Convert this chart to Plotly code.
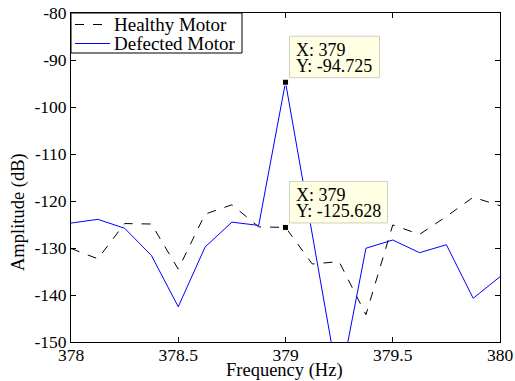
import plotly.graph_objects as go

freq = [378.0, 378.125, 378.25, 378.375, 378.5, 378.625, 378.75, 378.875, 379.0,
        379.125, 379.25, 379.375, 379.5, 379.625, 379.75, 379.875, 380.0]
healthy = [-130.1, -132.3, -124.8, -124.9, -134.5, -122.8, -120.8, -125.5, -125.628,
           -133.4, -132.9, -144.2, -125.1, -127.1, -123.3, -119.2, -121.0]
defected = [-124.7, -123.9, -125.8, -131.6, -142.5, -129.8, -124.5, -125.2, -94.725,
            -127.2, -159.6, -130.05, -128.3, -131.0, -129.3, -140.7, -136.1]

x_ticks = [378, 378.5, 379, 379.5, 380]
x_ticktext = ["378", "378.5", "379", "379.5", "380"]
y_ticks = [-150, -140, -130, -120, -110, -100, -90, -80]
y_ticktext = ["-150", "-140", "-130", "-120", "-110", "-100", "-90", "-80"]

series_names = ["Healthy Motor", "Defected Motor"]

tip_x = [379.0, 379.0]
tip_y = [-94.725, -125.628]
tip_box_w = [90, 98]

FONT = "Liberation Serif"
TIP_BG = "#ffffe3"
TIP_EDGE = "#cfcfc4"

fig = go.Figure()
fig.add_trace(go.Scatter(x=freq, y=healthy, mode="lines", name=series_names[0], showlegend=False,
                         line=dict(color="black", width=1, dash="dash")))
fig.add_trace(go.Scatter(x=freq, y=defected, mode="lines", name=series_names[1], showlegend=False,
                         line=dict(color="#0000ff", width=1)))

# data tip boxes
for xv, yv, bw in zip(tip_x, tip_y, tip_box_w):
    fig.add_shape(type="rect", xref="x", yref="y", xsizemode="pixel", ysizemode="pixel",
                  xanchor=xv, yanchor=yv, x0=4, x1=4 + bw, y0=4.5, y1=46,
                  fillcolor=TIP_BG, line=dict(color=TIP_EDGE, width=1), layer="above")
    fig.add_annotation(x=xv, y=yv, xref="x", yref="y", xanchor="left", yanchor="middle",
                       xshift=8.5, yshift=32, showarrow=False, text=f"X: {xv:g}",
                       font=dict(family=FONT, size=18, color="black"))
    fig.add_annotation(x=xv, y=yv, xref="x", yref="y", xanchor="left", yanchor="middle",
                       xshift=8.5, yshift=16.5, showarrow=False, text=f"Y: {yv:g}",
                       font=dict(family=FONT, size=18, color="black"))

fig.add_trace(go.Scatter(x=tip_x, y=tip_y, mode="markers", showlegend=False,
                         marker=dict(symbol="square", size=6, color="black",
                                     line=dict(color=TIP_BG, width=1)),
                         cliponaxis=False))

# legend box (drawn manually, MATLAB style)
fig.add_shape(type="rect", xref="paper", yref="paper", x0=0, x1=171 / 429, y0=1 - 40 / 329, y1=1,
              fillcolor="white", line=dict(color="black", width=1), layer="above")
fig.add_shape(type="line", xref="paper", yref="paper", x0=4 / 429, x1=39 / 429,
              y0=1 - 11.5 / 329, y1=1 - 11.5 / 329, line=dict(color="black", width=1, dash="dash"),
              layer="above")
fig.add_shape(type="line", xref="paper", yref="paper", x0=4 / 429, x1=39 / 429,
              y0=1 - 30.5 / 329, y1=1 - 30.5 / 329, line=dict(color="#0000ff", width=1),
              layer="above")
for i, nm in enumerate(series_names):
    fig.add_annotation(x=41 / 429, y=1 - (11.5 + 19 * i) / 329, xref="paper", yref="paper",
                       xanchor="left", yanchor="middle", showarrow=False, text=nm,
                       font=dict(family=FONT, size=19, color="black"))

# axis titles
fig.add_annotation(x=0.497, y=-28.5 / 329, xref="paper", yref="paper", xanchor="center",
                   yanchor="middle", showarrow=False, text="Frequency (Hz)",
                   font=dict(family=FONT, size=18.5, color="black"))
fig.add_annotation(x=-53 / 429, y=130 / 329, xref="paper", yref="paper", xanchor="center",
                   yanchor="middle", showarrow=False, text="Amplitude (dB)", textangle=-90,
                   font=dict(family=FONT, size=18.5, color="black"))

fig.update_layout(
    width=515, height=381,
    margin=dict(l=71, r=15, t=13, b=39),
    paper_bgcolor="white", plot_bgcolor="white",
    font=dict(family=FONT, size=17.5, color="black"),
    showlegend=False,
)
fig.update_xaxes(range=[378, 380], tickvals=x_ticks, ticktext=x_ticktext, automargin=False,
                 showgrid=False, zeroline=False, showline=True, linecolor="black",
                 linewidth=1, mirror="ticks", ticks="inside", ticklen=5,
                 tickcolor="black", tickfont=dict(family=FONT, size=17.5),
                 ticklabelstandoff=-3)
fig.update_yaxes(range=[-150, -80], tickvals=y_ticks, ticktext=y_ticktext, automargin=False,
                 showgrid=False, zeroline=False, showline=True, linecolor="black",
                 linewidth=1, mirror="ticks", ticks="inside", ticklen=5,
                 tickcolor="black", tickfont=dict(family=FONT, size=17.5))

fig.write_html("out.html")
